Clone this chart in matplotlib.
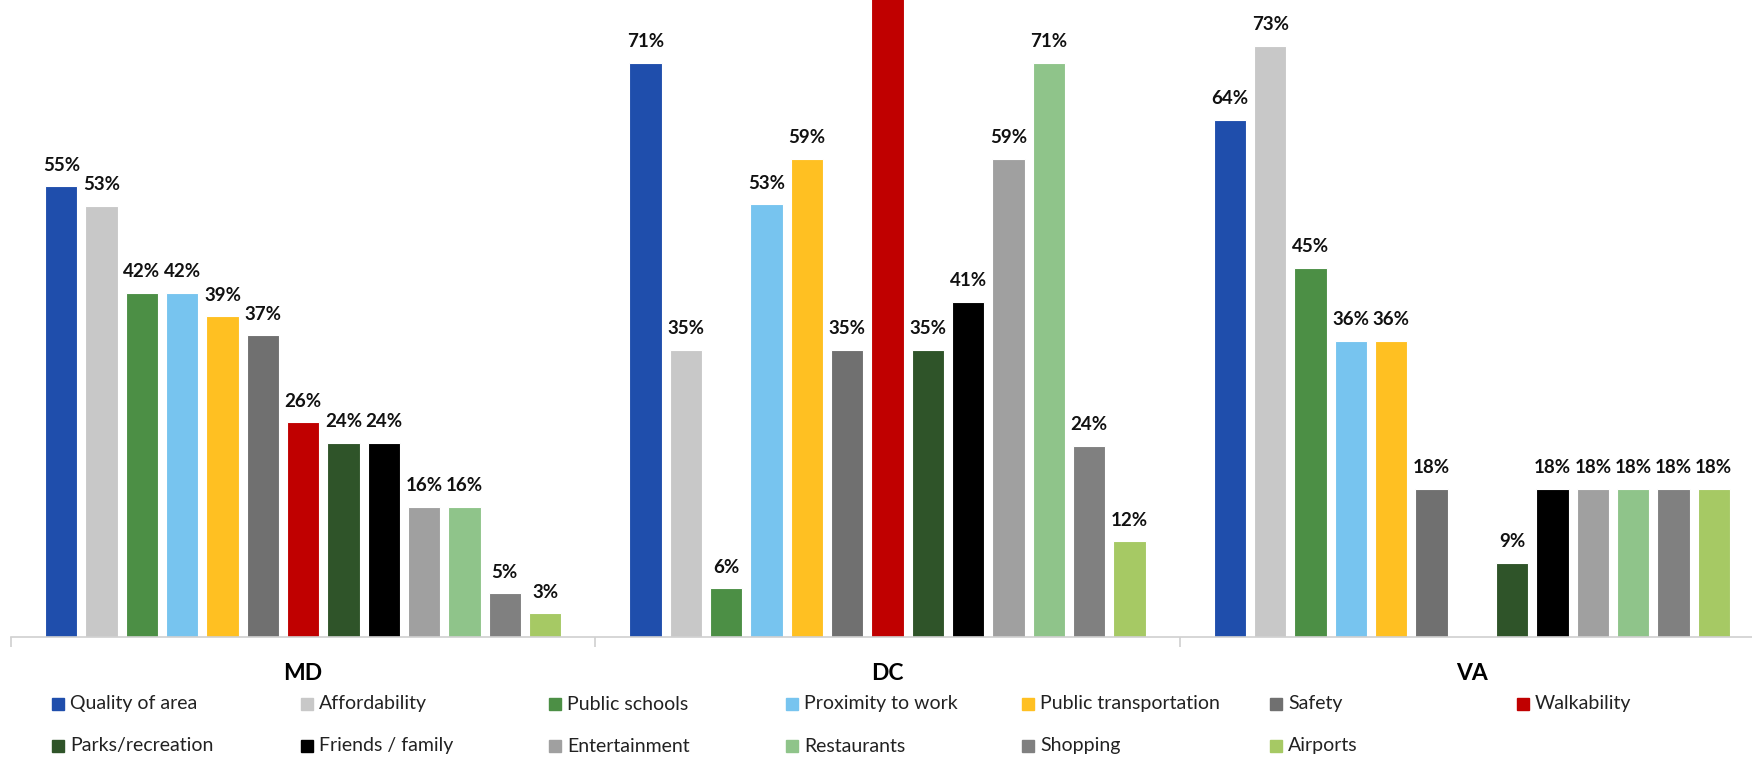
import matplotlib.pyplot as plt
import numpy as np
from matplotlib.patches import Rectangle

plt.rcParams['font.family'] = ['Lato', 'DejaVu Sans']

regions = ["MD", "DC", "VA"]
series = ["Quality of area", "Affordability", "Public schools", "Proximity to work",
          "Public transportation", "Safety", "Walkability", "Parks/recreation",
          "Friends / family", "Entertainment", "Restaurants", "Shopping", "Airports"]
colors = ["#1f4eac", "#c8c8c8", "#4c8f45", "#77c4ef", "#ffc022", "#707070", "#c00000",
          "#2f5429", "#000000", "#a0a0a0", "#8fc48a", "#808080", "#a6c964"]

# values (labels show them rounded)
md = [55.4, 53.0, 42.3, 42.3, 39.4, 37.1, 26.4, 23.9, 23.9, 16.0, 16.0, 5.4, 2.9]
dc = [70.6, 35.3, 6.0, 53.2, 58.8, 35.3, 82.0, 35.3, 41.2, 58.8, 70.6, 23.5, 11.8]
va = [63.6, 72.7, 45.4, 36.4, 36.4, 18.2, 0, 9.1, 18.2, 18.2, 18.2, 18.2, 18.2]
values = np.array([md, dc, va])  # rows: region, cols: series

W, H = 1752, 759
fig = plt.figure(figsize=(W / 100, H / 100), dpi=100)
ax = fig.add_axes([11 / W, 1 - 637 / H, (1764 - 11) / W, 637 / H])

x = np.arange(len(regions))
step = 0.069
bw = 0.0556
for j, name in enumerate(series):
    pos = x + (j - 6) * step
    vals = values[:, j]
    bars = ax.bar(pos, vals, width=bw, color=colors[j], edgecolor="white",
                  linewidth=0.8, label=name)
    for b, v in zip(bars, vals):
        if v > 0:
            ax.annotate(f"{v:.0f}%", (b.get_x() + b.get_width() / 2, v),
                        xytext=(0, 9), textcoords="offset points",
                        ha="center", va="bottom", fontsize=13.5,
                        fontweight="bold", color="#111111")

ax.set_xlim(-0.5, 2.5)
ax.set_ylim(0, 78.3)
for s in ["top", "left", "right"]:
    ax.spines[s].set_visible(False)
ax.spines["bottom"].set_color("#d0d0d0")
ax.spines["bottom"].set_linewidth(1.2)
ax.set_yticks([])
ax.set_xticks(x)
ax.set_xticklabels(regions, fontsize=16.5, fontweight="bold")
ax.tick_params(axis="x", which="major", length=0, pad=19)
ax.set_xticks([-0.5, 0.5, 1.5, 2.5], minor=True)
ax.tick_params(axis="x", which="minor", length=7, color="#d0d0d0", width=1.2)

# legend, laid out like the original (7 equal columns)
col_x = [58, 307, 555, 792, 1028, 1276, 1523]
row_y = [704, 746]
sq = 12
for j, name in enumerate(series):
    r, c = divmod(j, 7)
    cx, cy = col_x[c], row_y[r]
    fig.patches.append(Rectangle(((cx - sq / 2) / W, 1 - (cy + sq / 2) / H), sq / W, sq / H,
                                 transform=fig.transFigure, color=colors[j], figure=fig))
    fig.text((cx + sq / 2 + 6) / W, 1 - cy / H, name, fontsize=14,
             va="center", ha="left", color="#222222")

fig.savefig("out.png", dpi=100)
